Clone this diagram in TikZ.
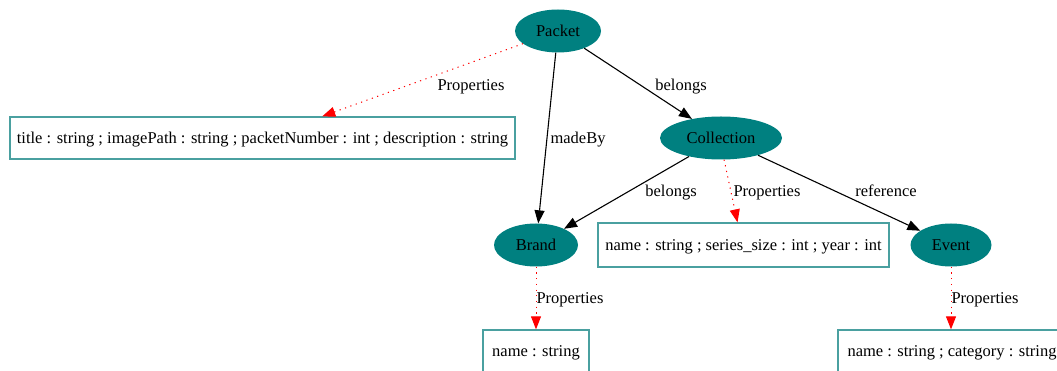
\documentclass[tikz,border=0pt]{standalone}
\usepackage{fontspec}
\setmainfont{Liberation Serif}
\usetikzlibrary{arrows.meta, shapes.geometric}
\definecolor{entityfill}{HTML}{008080}
\definecolor{boxline}{HTML}{4AA0A0}
\tikzset{
  entity/.style   = {ellipse, fill=entityfill, draw=none, inner sep=0pt,
                     minimum height=43pt, text height=11pt, text depth=0pt,
                     font=\fontsize{16.5}{19}\selectfont},
  propbox/.style  = {rectangle, draw=boxline, line width=1.3pt, inner sep=0pt,
                     minimum height=42pt, text height=11pt, text depth=0pt,
                     font=\fontsize{16.5}{19}\selectfont},
  rel/.style      = {-{Triangle[length=13pt,width=10pt]}, line width=1.1pt},
  propedge/.style = {-{Triangle[length=13pt,width=10pt]}, red, line width=1pt,
                     dash pattern=on 1.2pt off 4.5pt},
  lbl/.style      = {inner sep=0pt, text height=11pt, text depth=0pt,
                     font=\fontsize{16.5}{19}\selectfont},
}

\begin{document}
\begin{tikzpicture}[x=1pt, y=-1pt]
  \useasboundingbox (0,0) rectangle (1057,371);

  % ---- entities ----
  \node[entity, minimum width=86pt]  (packet)     at (558,31)  {Packet};
  \node[entity, minimum width=122pt] (collection) at (721,138) {Collection};
  \node[entity, minimum width=84pt]  (brand)      at (536,245) {Brand};
  \node[entity, minimum width=81pt]  (event)      at (951,245) {Event};

  % ---- property boxes ----
  \node[propbox, minimum width=505pt] (packetprops) at (262.5,138)
        {title : string ; imagePath : string ; packetNumber : int ; description : string};
  \node[propbox, minimum width=291pt, minimum height=44pt] (collprops) at (743.5,245)
        {name : string ; series\_size : int ; year : int};
  \node[propbox, minimum width=106pt] (brandprops) at (536,351)
        {name : string};
  \node[propbox, minimum width=228pt] (eventprops) at (952,351)
        {name : string ; category : string};

  % ---- relations ----
  \draw[rel] (packet) -- (brand);
  \draw[rel] (packet) -- (collection);
  \draw[rel] (collection) -- (brand);
  \draw[rel] (collection) -- (event);

  % ---- properties ----
  \draw[propedge] (packet) -- (packetprops);
  \draw[propedge] (collection.-82) -- ([xshift=-6pt]collprops.north);
  \draw[propedge] (brand) -- (brandprops);
  \draw[propedge] (event) -- (eventprops.north -| event);

  % ---- edge labels ----
  \node[lbl] (lpacketprops) at (471,85)  {Properties};
  \node[lbl] (lmadeby)      at (578,138) {madeBy};
  \node[lbl] (lbelongs)     at (681,85)  {belongs};
  \node[lbl] (lbelongsb)    at (671,191) {belongs};
  \node[lbl] (lcollprops)   at (767,191) {Properties};
  \node[lbl] (lreference)   at (886,191) {reference};
  \node[lbl] (lbrandprops)  at (570,298) {Properties};
  \node[lbl] (leventprops)  at (985,298) {Properties};
\end{tikzpicture}
\end{document}
